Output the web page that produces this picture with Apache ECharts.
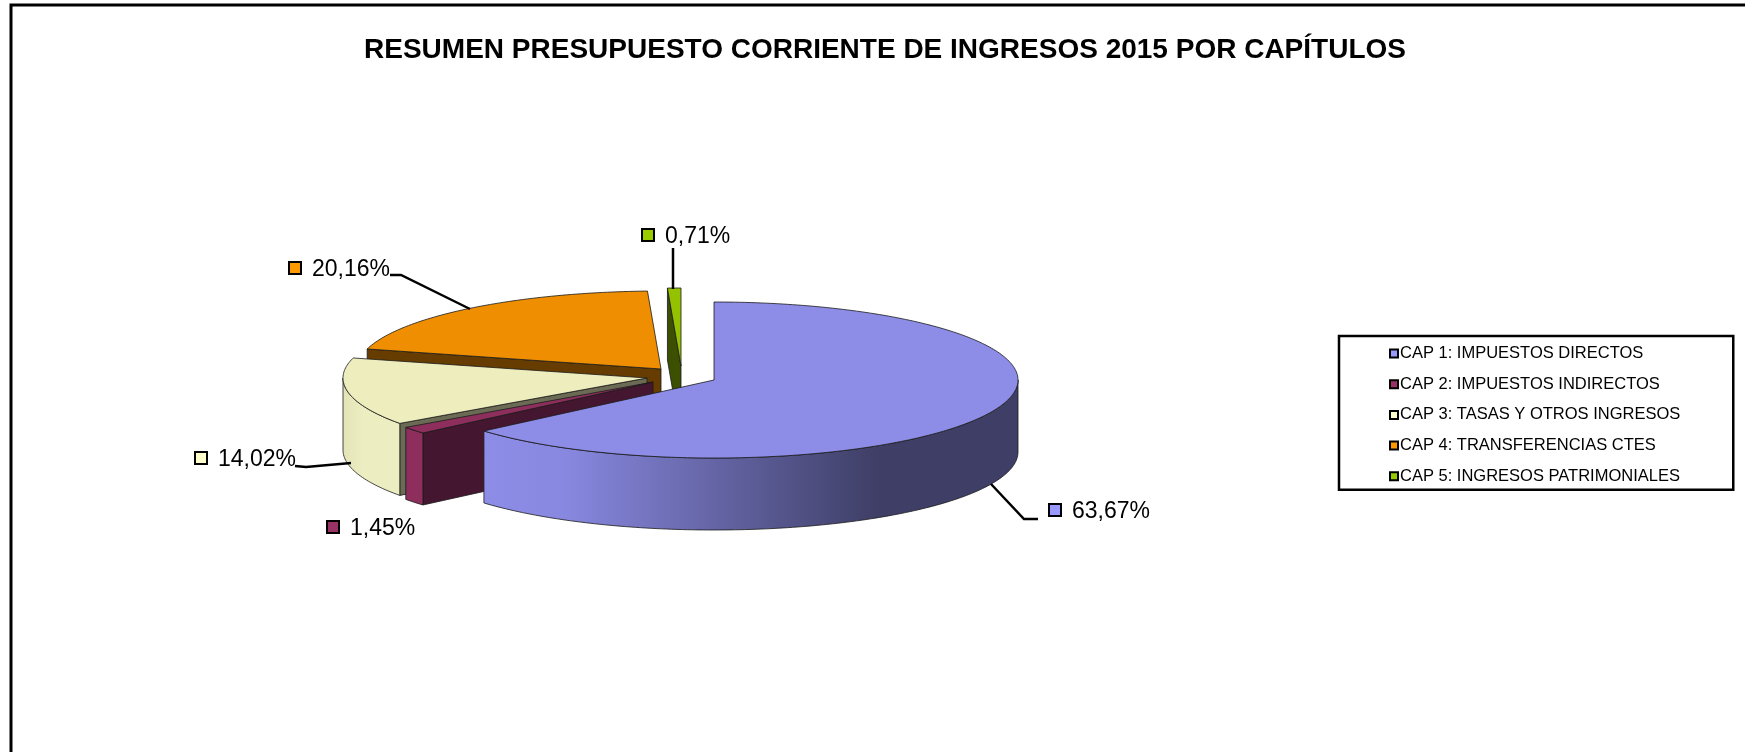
<!DOCTYPE html>
<html>
<head>
<meta charset="utf-8">
<title>Resumen presupuesto</title>
<script src="https://cdn.jsdelivr.net/npm/echarts@6/dist/echarts.min.js"></script>
<style>
html, body { margin: 0; padding: 0; background: #fff; }
#grafico { width: 1745px; height: 752px; }
</style>
</head>
<body>
<div id="grafico"></div>
<script>
// datos
var categorias = ['CAP 1: IMPUESTOS DIRECTOS', 'CAP 2: IMPUESTOS INDIRECTOS', 'CAP 3: TASAS Y OTROS INGRESOS', 'CAP 4: TRANSFERENCIAS CTES', 'CAP 5: INGRESOS PATRIMONIALES'];
var valores = [63.67, 1.45, 14.02, 20.16, 0.71];
var etiquetas = ['63,67%', '1,45%', '14,02%', '20,16%', '0,71%'];

// colores
var colorLeyenda = ['#9999ff', '#993366', '#ffffcc', '#ff9900', '#99cc00'];
var colorTapa = ['#8d8de8', '#8d2e5c', '#ededbe', '#ee8e00', '#94c100'];
var colorCorte = ['#3e3e66', '#45162f', '#6b6b55', '#663c00', '#3d4f00'];

// pseudo 3D: semiejes, altura y vertice de cada porcion (separadas como en el original)
var RX = 304, RY = 78, ALTO = 72;
var vertices = [[714, 380], [653, 382], [647, 378], [661, 369], [681, 366]];

// posicion de las etiquetas y de sus lineas guia
var posEtiqueta = [[1048, 512], [326, 529], [194, 460], [288, 270], [641, 237]];
var guias = [
    [[991, 484], [1024, 519], [1038, 519]],
    null,
    [[295, 466], [306, 467], [351, 463]],
    [[390, 275], [401, 275], [470, 309]],
    [[673, 248], [673, 289]]
];

var total = valores.reduce(function (a, b) { return a + b; }, 0);
var inicios = [];
valores.reduce(function (acum, v, i) {
    inicios[i] = acum / total * 360;
    return acum + v;
}, 0);

function punto(c, grados, dy) {
    var r = grados * Math.PI / 180;
    return [c[0] + RX * Math.sin(r), c[1] - RY * Math.cos(r) + (dy || 0)];
}

function arco(c, desde, hasta, dy) {
    var pts = [];
    for (var g = desde; g < hasta; g += 1) pts.push(punto(c, g, dy));
    pts.push(punto(c, hasta, dy));
    return pts;
}

function poligono(pts, relleno) {
    return {
        type: 'polygon',
        shape: { points: pts },
        style: { fill: relleno, stroke: '#1a1a1a', lineWidth: 0.8 }
    };
}

function rellenoBorde(i) {
    if (i === 0) {
        return new echarts.graphic.LinearGradient(0, 0, 1, 0, [
            { offset: 0, color: '#8d8de8' },
            { offset: 0.15, color: '#8888e0' },
            { offset: 0.74, color: '#3e3e66' },
            { offset: 1, color: '#3e3e66' }
        ]);
    }
    if (i === 2) {
        return new echarts.graphic.LinearGradient(0, 0, 1, 0, [
            { offset: 0, color: '#e3e3b8' },
            { offset: 0.35, color: '#ecedc0' },
            { offset: 1, color: '#ecedc0' }
        ]);
    }
    return colorTapa[i];
}

function dibujar(params, api) {
    var i = api.value(0);
    var desde = inicios[i];
    var hasta = desde + api.value(1) / total * 360;
    var c = vertices[i];
    var hijos = [];

    // cara de corte visible (la que mira al espectador)
    if (Math.sin(desde * Math.PI / 180) < 0) {
        var p = punto(c, desde);
        hijos.push(poligono([c, p, [p[0], p[1] + ALTO], [c[0], c[1] + ALTO]], colorCorte[i]));
    }

    // borde exterior, solo la parte delantera
    var a = Math.max(desde, 90), b = Math.min(hasta, 270);
    if (a < b) {
        var arriba = arco(c, a, b);
        var abajo = arco(c, a, b, ALTO).reverse();
        hijos.push(poligono(arriba.concat(abajo), rellenoBorde(i)));
    }

    // tapa
    hijos.push(poligono([c].concat(arco(c, desde, hasta)), colorTapa[i]));

    // linea guia y etiqueta
    if (guias[i]) {
        hijos.push({
            type: 'polyline',
            shape: { points: guias[i] },
            style: { fill: null, stroke: '#000', lineWidth: 2.5 }
        });
    }
    var pos = posEtiqueta[i];
    hijos.push({
        type: 'rect',
        shape: { x: pos[0] + 1, y: pos[1] - 8, width: 12, height: 12 },
        style: { fill: colorLeyenda[i], stroke: '#000', lineWidth: 2 }
    });
    hijos.push({
        type: 'text',
        style: {
            x: pos[0] + 24, y: pos[1], text: etiquetas[i], fill: '#000',
            font: '23px "Liberation Sans"', align: 'left', verticalAlign: 'middle'
        }
    });
    return { type: 'group', children: hijos };
}

var myChart = echarts.init(document.getElementById('grafico'));
var option = {
    animation: false,
    backgroundColor: '#fff',
    title: {
        text: 'RESUMEN PRESUPUESTO CORRIENTE DE INGRESOS 2015 POR CAPÍTULOS',
        left: 880,
        top: 31,
        textAlign: 'center',
        textStyle: { color: '#000', fontFamily: 'Liberation Sans', fontWeight: 'bold', fontSize: 28 }
    },
    legend: {
        orient: 'vertical',
        left: 1339,
        top: 336,
        padding: [9, 53, 5, 50],
        itemGap: 13.7,
        itemWidth: 8,
        itemHeight: 8,
        borderColor: '#000',
        borderWidth: 2.5,
        selectedMode: false,
        textStyle: { color: '#000', fontFamily: 'Liberation Sans', fontSize: 16.5, lineHeight: 16, padding: [0, 0, 0, -3] },
        data: categorias.map(function (n, i) {
            return { name: n, icon: 'rect', itemStyle: { color: colorLeyenda[i], borderColor: '#000', borderWidth: 2 } };
        })
    },
    graphic: [{
        type: 'polyline',
        shape: { points: [[11, 752], [11, 5], [1745, 5]] },
        style: { fill: null, stroke: '#000', lineWidth: 3 }
    }],
    // la porcion 1 va delante de todas
    series: categorias.map(function (n, i) {
        return {
            type: 'custom',
            name: n,
            coordinateSystem: 'none',
            silent: true,
            z: 10 - i,
            itemStyle: { color: colorLeyenda[i] },
            renderItem: dibujar,
            data: [[i, valores[i]]]
        };
    })
};
myChart.setOption(option);
</script>
</body>
</html>
